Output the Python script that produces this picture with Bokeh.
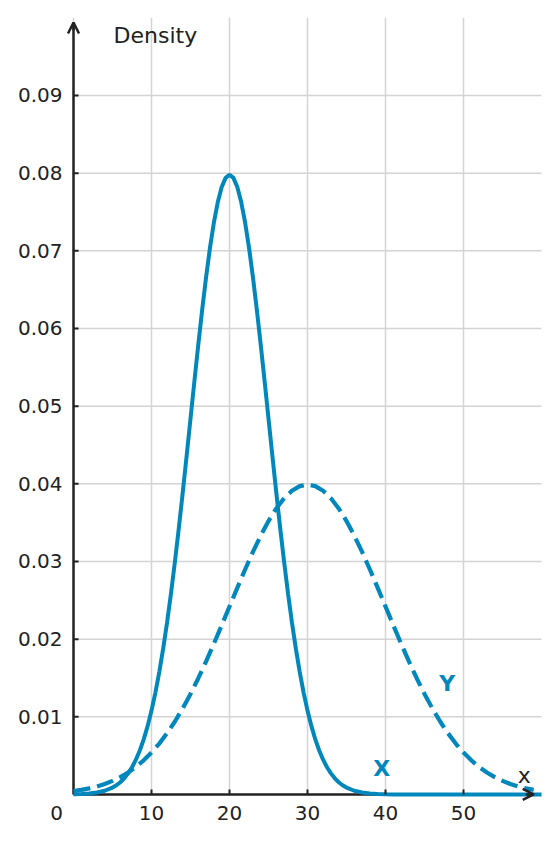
from bokeh.plotting import figure
from bokeh.models import Arrow, OpenHead, Range1d
from bokeh.core.properties import value
from bokeh.embed import file_html
from bokeh.resources import INLINE

# ---- data ----
# Density of X (solid curve), peak ~0.08 at x=20
x_pos = [0, 1, 2, 3, 4,
         5, 5.5, 6, 6.5, 7, 7.5, 8, 8.5, 9, 9.5, 10, 10.5, 11, 11.5, 12, 12.5,
         13, 13.5, 14, 14.5, 15, 15.5, 16, 16.5, 17, 17.5, 18, 18.5, 19, 19.5,
         20, 20.5, 21, 21.5, 22, 22.5, 23, 23.5, 24, 24.5, 25, 25.5, 26, 26.5,
         27, 27.5, 28, 28.5, 29, 29.5, 30, 30.5, 31, 31.5, 32, 32.5, 33, 33.5,
         34, 34.5, 35,
         36, 37, 38, 39, 40, 41, 42, 44, 46, 48, 50, 52, 54, 56, 58, 60]
dens_x = [0.00003, 0.00006, 0.00012, 0.00025, 0.00048,
          0.00089, 0.00119, 0.00158, 0.00208, 0.00272, 0.00351, 0.00448, 0.00566,
          0.00709, 0.00880, 0.01080, 0.01312, 0.01579, 0.01881, 0.02218, 0.02590,
          0.02995, 0.03427, 0.03884, 0.04357, 0.04839, 0.05322, 0.05794, 0.06245,
          0.06664, 0.07041, 0.07365, 0.07628, 0.07821, 0.07939,
          0.07979, 0.07939, 0.07821, 0.07628, 0.07365, 0.07041, 0.06664, 0.06245,
          0.05794, 0.05322, 0.04839, 0.04357, 0.03884, 0.03427, 0.02995, 0.02590,
          0.02218, 0.01881, 0.01579, 0.01312, 0.01080, 0.00880, 0.00709, 0.00566,
          0.00448, 0.00351, 0.00272, 0.00208, 0.00158, 0.00119, 0.00089,
          0.00048, 0.00025, 0.00012, 0.00006, 0.00003, 0.00001, 0.0, 0.0, 0.0,
          0.0, 0.0, 0.0, 0.0, 0.0, 0.0, 0.0]
# Density of Y (dashed curve), peak ~0.04 at x=30
y_pos = list(range(0, 60))
dens_y = [0.00044, 0.00060, 0.00079, 0.00104, 0.00136, 0.00175, 0.00224, 0.00283,
          0.00355, 0.00440, 0.00540, 0.00656, 0.00790, 0.00940, 0.01109, 0.01295,
          0.01497, 0.01714, 0.01942, 0.02179, 0.02420, 0.02661, 0.02897, 0.03123,
          0.03332, 0.03521, 0.03683, 0.03814, 0.03910, 0.03970, 0.03989, 0.03970,
          0.03910, 0.03814, 0.03683, 0.03521, 0.03332, 0.03123, 0.02897, 0.02661,
          0.02420, 0.02179, 0.01942, 0.01714, 0.01497, 0.01295, 0.01109, 0.00940,
          0.00790, 0.00656, 0.00540, 0.00440, 0.00355, 0.00283, 0.00224, 0.00175,
          0.00136, 0.00104, 0.00079, 0.00060]
x_ticks = [10, 20, 30, 40, 50]
x_tick_labels = ["10", "20", "30", "40", "50"]
y_ticks = [0.01, 0.02, 0.03, 0.04, 0.05, 0.06, 0.07, 0.08, 0.09]
y_tick_labels = ["0.01", "0.02", "0.03", "0.04", "0.05", "0.06", "0.07", "0.08", "0.09"]
x_max, y_max = 60, 0.1
x_arrow_end, y_arrow_end = 59, 0.0994

BLUE = "#0087bb"
DARK = "#222222"
GRID = "#d4d4d4"
FONT = value("DejaVu Sans")

# the frame fills the whole canvas; axes are drawn from the tick lists
p = figure(width=557, height=843, output_backend="svg", toolbar_location=None,
           x_range=Range1d(-9.36, 62.05), y_range=Range1d(-0.00631, 0.10223),
           min_border=0, min_border_left=0, min_border_right=0,
           min_border_top=0, min_border_bottom=0)
p.axis.visible = False
p.grid.visible = False
p.outline_line_color = None
p.background_fill_color = "white"
p.border_fill_color = "white"

# grid lines
p.segment(x0=[0] + x_ticks, y0=0, x1=[0] + x_ticks, y1=y_max,
          line_color=GRID, line_width=1.5)
p.segment(x0=0, y0=y_ticks, x1=x_max, y1=y_ticks, line_color=GRID, line_width=1.5)

# axis lines
p.segment(x0=[0, 0], y0=[0, 0], x1=[x_arrow_end, 0], y1=[0, y_arrow_end],
          line_color=DARK, line_width=2.5)

# curves
p.line(y_pos, dens_y, line_color=BLUE, line_width=4.2, line_dash="17 7")
p.line(x_pos, dens_x, line_color=BLUE, line_width=4)

# tick marks (pointing into the plot)
p.segment(x0=x_ticks, y0=0, x1=x_ticks, y1=0.00065, line_color=DARK, line_width=2)
p.segment(x0=0, y0=y_ticks, x1=0.65, y1=y_ticks, line_color=DARK, line_width=2)

# arrow heads
for xs, ys, xe, ye in [(x_arrow_end - 1, 0, x_arrow_end, 0),
                       (0, y_arrow_end - 0.001, 0, y_arrow_end)]:
    p.add_layout(Arrow(end=OpenHead(size=11, line_width=2.5, line_color=DARK),
                       x_start=xs, y_start=ys, x_end=xe, y_end=ye,
                       line_color=DARK, line_width=2.5))

# tick labels
p.text(x=0, y=y_ticks, text=y_tick_labels, x_offset=-11, text_align="right",
       text_baseline="middle", text_font=FONT, text_font_size="20px", text_color=DARK)
p.text(x=x_ticks, y=0, text=x_tick_labels, y_offset=19, text_align="center",
       text_baseline="middle", text_font=FONT, text_font_size="20px", text_color=DARK)
p.text(x=[0], y=[0], text=["0"], x_offset=-17, y_offset=19, text_align="center",
       text_baseline="middle", text_font=FONT, text_font_size="20px", text_color=DARK)

# annotations
p.text(x=[39.5, 47.9], y=[0.0034, 0.01425], text=["X", "Y"], text_color=BLUE,
       text_font=FONT, text_font_size="22px", text_font_style="bold",
       text_align="center", text_baseline="middle")
p.text(x=[57.8], y=[0.0024], text=["x"], text_color=DARK, text_font=FONT,
       text_font_size="22px", text_align="center", text_baseline="middle")
p.text(x=[10.5], y=[0.0977], text=["Density"], text_color=DARK, text_font=FONT,
       text_font_size="22px", text_align="center", text_baseline="middle")

open("out.html", "w").write(file_html(p, INLINE))
